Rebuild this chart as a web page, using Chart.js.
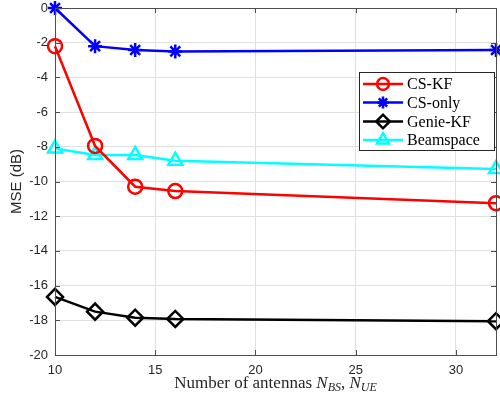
<!DOCTYPE html>
<html>
<head>
<meta charset="utf-8">
<script src="https://cdn.jsdelivr.net/npm/chart.js@4"></script>
<style>
  html, body { margin: 0; padding: 0; background: #fff; }
  #wrap { width: 500px; height: 403px; }
</style>
</head>
<body>
<div id="wrap"><canvas id="chart" width="500" height="403"></canvas></div>
<script>
// antenna counts on the x axis
const antennas = [10, 12, 14, 16, 32];
// MSE (dB) per method
const csKF = [-2.2, -7.95, -10.3, -10.55, -11.25];
const csOnly = [0, -2.2, -2.42, -2.5, -2.42];
const genieKF = [-16.65, -17.5, -17.85, -17.92, -18.05];
const beamspace = [-8.1, -8.47, -8.47, -8.8, -9.28];
const xTicks = [10, 15, 20, 25, 30];

const series = [
  { label: 'CS-KF', data: csKF, color: '#ff0000', style: 'circle', radius: 7 },
  { label: 'CS-only', data: csOnly, color: '#0000ff', style: 'star', radius: 7 },
  { label: 'Genie-KF', data: genieKF, color: '#000000', style: 'rectRot', radius: 8 },
  { label: 'Beamspace', data: beamspace, color: '#00ffff', style: 'triangle', radius: 8 }
];

const SANS = '"Liberation Sans", Arial, Helvetica, sans-serif';
const SERIF = '"Liberation Serif", "Times New Roman", serif';

// box round the plot with MATLAB-style inward ticks
const boxPlugin = {
  id: 'box',
  afterDraw(chart) {
    const { ctx, chartArea: a, scales } = chart;
    ctx.save();
    ctx.strokeStyle = '#4d4d4d';
    ctx.lineWidth = 1;
    ctx.strokeRect(a.left + 0.5, a.top + 0.5, a.right - a.left, a.bottom - a.top);
    ctx.beginPath();
    const tl = 5;
    scales.y.ticks.forEach(t => {
      const y = Math.round(scales.y.getPixelForValue(t.value)) + 0.5;
      ctx.moveTo(a.left, y); ctx.lineTo(a.left + tl, y);
      ctx.moveTo(a.right, y); ctx.lineTo(a.right - tl, y);
    });
    scales.x.ticks.forEach(t => {
      const x = Math.round(scales.x.getPixelForValue(t.value)) + 0.5;
      ctx.moveTo(x, a.bottom); ctx.lineTo(x, a.bottom - tl);
      ctx.moveTo(x, a.top); ctx.lineTo(x, a.top + tl);
    });
    ctx.stroke();
    ctx.restore();
  }
};

// axis titles, x title has italic symbols with subscripts
const titlePlugin = {
  id: 'titles',
  afterDraw(chart) {
    const { ctx, chartArea: a } = chart;
    ctx.save();
    ctx.fillStyle = '#262626';
    ctx.font = '15px ' + SANS;
    ctx.textAlign = 'center';
    ctx.textBaseline = 'middle';
    ctx.translate(17, (a.top + a.bottom) / 2);
    ctx.rotate(-Math.PI / 2);
    ctx.fillText('MSE (dB)', 0, 0);
    ctx.restore();

    const parts = [
      { t: 'Number of antennas ', f: '17px ' + SERIF, dy: 0 },
      { t: 'N', f: 'italic 17px ' + SERIF, dy: 0 },
      { t: 'BS', f: 'italic 12px ' + SERIF, dy: 3 },
      { t: ', ', f: '17px ' + SERIF, dy: 0 },
      { t: 'N', f: 'italic 17px ' + SERIF, dy: 0 },
      { t: 'UE', f: 'italic 12px ' + SERIF, dy: 3 }
    ];
    ctx.save();
    ctx.fillStyle = '#262626';
    ctx.textBaseline = 'alphabetic';
    ctx.textAlign = 'left';
    let total = 0;
    parts.forEach(p => { ctx.font = p.f; p.w = ctx.measureText(p.t).width; total += p.w; });
    let x = (a.left + a.right) / 2 - total / 2;
    parts.forEach(p => {
      ctx.font = p.f;
      ctx.fillText(p.t, x, 388 + p.dy);
      x += p.w;
    });
    ctx.restore();
  }
};

// legend with line + marker samples
const legendPlugin = {
  id: 'lineLegend',
  afterDraw(chart) {
    const { ctx } = chart;
    const box = { x: 359, y: 72, w: 135, h: 78 };
    ctx.save();
    ctx.fillStyle = '#fff';
    ctx.fillRect(box.x, box.y, box.w, box.h);
    ctx.strokeStyle = '#262626';
    ctx.lineWidth = 1;
    ctx.strokeRect(box.x + 0.5, box.y + 0.5, box.w, box.h);
    const rows = [84, 102.5, 121.5, 140];
    series.forEach((s, i) => {
      const y = rows[i];
      ctx.strokeStyle = s.color;
      ctx.lineWidth = 2.5;
      ctx.beginPath();
      ctx.moveTo(363, y); ctx.lineTo(403, y);
      ctx.stroke();
      ctx.fillStyle = 'rgba(0,0,0,0)';
      Chart.helpers.drawPoint(ctx, {
        pointStyle: s.style, radius: s.radius * 0.85, borderWidth: 2.5, rotation: 0
      }, 383, y);
      ctx.fillStyle = '#000';
      ctx.font = '16px ' + SERIF;
      ctx.textBaseline = 'middle';
      ctx.fillText(s.label, 407, y + 1);
    });
    ctx.restore();
  }
};

new Chart(document.getElementById('chart'), {
  type: 'line',
  data: {
    datasets: series.map(s => ({
      label: s.label,
      data: antennas.map((x, i) => ({ x, y: s.data[i] })),
      borderColor: s.color,
      backgroundColor: 'rgba(0,0,0,0)',
      borderWidth: 2.5,
      pointStyle: s.style,
      pointRadius: s.radius,
      pointBorderWidth: 2.5,
      pointBorderColor: s.color,
      pointBackgroundColor: 'rgba(0,0,0,0)',
      tension: 0,
      clip: false
    }))
  },
  options: {
    responsive: false,
    animation: false,
    layout: { autoPadding: false, padding: { top: 8, right: 4, left: 0, bottom: 0 } },
    plugins: { legend: { display: false }, tooltip: { enabled: false } },
    scales: {
      x: {
        type: 'linear', min: 10, max: 32,
        afterBuildTicks: s => { s.ticks = xTicks.map(v => ({ value: v })); },
        afterFit: s => { s.height = 48; s.paddingLeft = 0; s.paddingRight = 0; },
        grid: { color: '#e0e0e0', drawTicks: false },
        border: { display: false },
        ticks: { padding: 8, color: '#262626', font: { family: SANS, size: 13 }, callback: v => String(v) }
      },
      y: {
        min: -20, max: 0,
        ticks: { stepSize: 2, padding: 7, color: '#262626', font: { family: SANS, size: 13 }, callback: v => String(v) },
        afterFit: s => { s.width = 55; s.paddingTop = 0; s.paddingBottom = 0; },
        grid: { color: '#e0e0e0', drawTicks: false },
        border: { display: false }
      }
    }
  },
  plugins: [boxPlugin, titlePlugin, legendPlugin]
});
</script>
</body>
</html>
